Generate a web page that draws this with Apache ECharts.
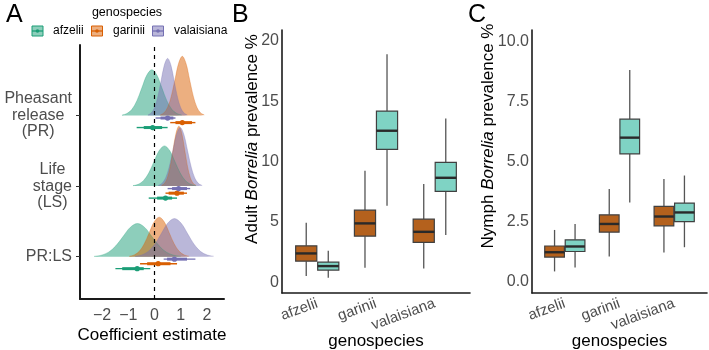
<!DOCTYPE html>
<html><head><meta charset="utf-8">
<script src="https://cdn.jsdelivr.net/npm/echarts@6/dist/echarts.min.js"></script>
<style>html,body{margin:0;padding:0;background:#fff}#c{width:709px;height:350px}</style>
</head><body><div id="c"></div>
<script>
// ---------- DATA ----------
const species = ['afzelii', 'garinii', 'valaisiana'];
const effectLabels = ['PR:LS', 'Life\nstage\n(LS)', 'Pheasant\nrelease\n(PR)']; // bottom -> top
const coefTicks = [-2, -1, 0, 1, 2];
const adultTicks = [0, 5, 10, 15, 20];
const nymphTicks = [0, 2.5, 5, 7.5, 10];

// posterior densities, [coefficient, density height] per effect row
const densPR_afzelii = [[-1.24,0.007],[-1.05,0.029],[-0.86,0.088],[-0.67,0.211],[-0.48,0.394],[-0.29,0.574],[-0.10,0.650],[0.09,0.574],[0.28,0.394],[0.47,0.211],[0.66,0.088],[0.85,0.029],[1.04,0.007]];
const densPR_garinii = [[0.22,0.009],[0.36,0.037],[0.50,0.114],[0.64,0.273],[0.78,0.509],[0.92,0.741],[1.06,0.840],[1.20,0.741],[1.34,0.509],[1.48,0.273],[1.62,0.114],[1.76,0.037],[1.90,0.009]];
const densPR_valaisiana = [[-0.25,0.009],[-0.125,0.036],[0,0.110],[0.125,0.263],[0.25,0.491],[0.375,0.715],[0.5,0.810],[0.625,0.715],[0.75,0.491],[0.875,0.263],[1.0,0.110],[1.125,0.036],[1.25,0.009]];
const densLS_afzelii = [[-0.82,0.006],[-0.62,0.025],[-0.42,0.077],[-0.22,0.185],[-0.02,0.346],[0.18,0.503],[0.38,0.570],[0.58,0.503],[0.78,0.346],[0.98,0.185],[1.18,0.077],[1.38,0.025],[1.58,0.006]];
const densLS_garinii = [[0.27,0.009],[0.38,0.037],[0.49,0.115],[0.60,0.276],[0.71,0.516],[0.82,0.750],[0.93,0.850],[1.04,0.750],[1.15,0.516],[1.26,0.276],[1.37,0.115],[1.48,0.037],[1.59,0.009]];
const densLS_valaisiana = [[0.14,0.009],[0.28,0.036],[0.42,0.112],[0.56,0.270],[0.70,0.503],[0.84,0.732],[0.98,0.830],[1.12,0.732],[1.26,0.503],[1.40,0.270],[1.54,0.112],[1.68,0.036],[1.82,0.009]];
const densPRLS_afzelii = [[-2.30,0.005],[-2.025,0.021],[-1.75,0.064],[-1.475,0.153],[-1.20,0.285],[-0.925,0.415],[-0.65,0.470],[-0.375,0.415],[-0.10,0.285],[0.175,0.153],[0.45,0.064],[0.725,0.021],[1.00,0.005]];
const densPRLS_garinii = [[-0.96,0.006],[-0.77,0.025],[-0.58,0.076],[-0.39,0.182],[-0.20,0.340],[-0.01,0.494],[0.18,0.560],[0.37,0.494],[0.56,0.340],[0.75,0.182],[0.94,0.076],[1.13,0.025],[1.32,0.006]];
const densPRLS_valaisiana = [[-0.74,0.006],[-0.49,0.024],[-0.24,0.073],[0.01,0.175],[0.26,0.328],[0.51,0.477],[0.76,0.540],[1.01,0.477],[1.26,0.328],[1.51,0.175],[1.76,0.073],[2.01,0.024],[2.26,0.006]];

// point intervals: [rowIndex (0=PR:LS,1=LS,2=PR), median, lo95, hi95, lo66, hi66]
const intAfzelii = [[2,-0.07,-0.68,0.50,-0.41,0.29],[1,0.42,-0.22,0.86,0.10,0.67],[0,-0.66,-1.49,-0.16,-1.23,-0.41]];
const intGarinii = [[2,1.06,0.60,1.56,0.80,1.43],[1,0.86,0.42,1.24,0.54,1.12],[0,0.14,-0.55,0.86,-0.28,0.61]];
const intValaisiana = [[2,0.50,0.04,0.80,0.23,0.72],[1,0.92,0.50,1.36,0.67,1.24],[0,0.76,0.35,1.56,0.48,1.24]];

// boxplots: [whiskerLow, Q1, median, Q3, whiskerHigh] per genospecies
const adultBrown = [[0.50,1.74,2.38,3.01,4.92],[1.19,3.81,4.87,5.97,9.23],[1.13,3.29,4.17,5.22,8.13]];
const adultTeal  = [[0.36,1.00,1.33,1.66,2.60],[6.33,11.00,12.55,14.18,18.88],[3.90,7.52,8.65,9.93,13.57]];
const nymphBrown = [[0.42,1.02,1.22,1.48,2.15],[1.04,2.06,2.40,2.78,3.86],[1.21,2.32,2.71,3.13,4.27]];
const nymphTeal  = [[0.58,1.25,1.46,1.74,2.40],[3.30,5.32,6.00,6.77,8.82],[1.43,2.50,2.88,3.27,4.42]];

// ---------- STYLE ----------
const FONT = '"Liberation Sans", Arial, Helvetica, sans-serif';
const spColor = {afzelii: '#1b9e77', garinii: '#d95f02', valaisiana: '#7570b3'};
const spFill = {afzelii: 'rgba(27,158,119,0.5)', garinii: 'rgba(217,95,2,0.5)', valaisiana: 'rgba(117,112,179,0.5)'};
const dodgeY = {afzelii: -0.17, garinii: -0.10, valaisiana: -0.035};
const BROWN = '#b4611d', TEAL = '#7fd3c4';
const BOX_OFF = 0.1875, BOX_W = 0.36;
const GRAY = '#4d4d4d';

const chart = echarts.init(document.getElementById('c'), null, {renderer: 'canvas'});

const series = [];
const densities = {
  0: {afzelii: densPRLS_afzelii, garinii: densPRLS_garinii, valaisiana: densPRLS_valaisiana},
  1: {afzelii: densLS_afzelii, garinii: densLS_garinii, valaisiana: densLS_valaisiana},
  2: {afzelii: densPR_afzelii, garinii: densPR_garinii, valaisiana: densPR_valaisiana}
};
[2, 1, 0].forEach(function (row) {
  const base = row + 1;
  species.forEach(function (sp) {
    series.push({
      type: 'line', xAxisIndex: 0, yAxisIndex: 0, smooth: 0.35, symbol: 'none', silent: true,
      data: densities[row][sp].map(function (p) { return [p[0], base + p[1]]; }),
      lineStyle: {width: 0.6, color: spFill[sp]},
      areaStyle: {color: spFill[sp], opacity: 1, origin: base},
      z: 2
    });
  });
});

function intervalRender(sp) {
  return function (params, api) {
    const y = api.value(0);
    const pm = api.coord([api.value(1), y]);
    const a = api.coord([api.value(2), y]), b = api.coord([api.value(3), y]);
    const c = api.coord([api.value(4), y]), d = api.coord([api.value(5), y]);
    const col = spColor[sp];
    return {type: 'group', children: [
      {type: 'line', shape: {x1: a[0], y1: a[1], x2: b[0], y2: b[1]}, style: {stroke: col, lineWidth: 1.4}},
      {type: 'line', shape: {x1: c[0], y1: c[1], x2: d[0], y2: d[1]}, style: {stroke: col, lineWidth: 3}},
      {type: 'circle', shape: {cx: pm[0], cy: pm[1], r: 2.6}, style: {fill: col}}
    ]};
  };
}
const intervals = {afzelii: intAfzelii, garinii: intGarinii, valaisiana: intValaisiana};
species.forEach(function (sp, i) {
  const s = {
    type: 'custom', xAxisIndex: 0, yAxisIndex: 0, silent: true, z: 5,
    renderItem: intervalRender(sp),
    encode: {x: [1, 2, 3, 4, 5], y: 0},
    data: intervals[sp].map(function (r) { return [r[0] + 1 + dodgeY[sp], r[1], r[2], r[3], r[4], r[5]]; })
  };
  if (i === 0) {
    s.markLine = {silent: true, symbol: 'none', label: {show: false},
      lineStyle: {color: '#000', type: [4, 4], width: 1.2}, data: [{xAxis: 0}]};
  }
  series.push(s);
});

function boxRender(offset, fill) {
  return function (params, api) {
    const x = api.value(0) + offset;
    const lo = api.coord([x, api.value(1)]), q1 = api.coord([x, api.value(2)]);
    const md = api.coord([x, api.value(3)]), q3 = api.coord([x, api.value(4)]);
    const hi = api.coord([x, api.value(5)]);
    const hw = api.size([BOX_W, 0])[0] / 2;
    return {type: 'group', children: [
      {type: 'line', shape: {x1: lo[0], y1: lo[1], x2: q1[0], y2: q1[1]}, style: {stroke: '#555', lineWidth: 1.3}},
      {type: 'line', shape: {x1: q3[0], y1: q3[1], x2: hi[0], y2: hi[1]}, style: {stroke: '#555', lineWidth: 1.3}},
      {type: 'rect', shape: {x: q3[0] - hw, y: q3[1], width: 2 * hw, height: q1[1] - q3[1]},
        style: {fill: fill, stroke: '#404040', lineWidth: 1.2}},
      {type: 'line', shape: {x1: md[0] - hw, y1: md[1], x2: md[0] + hw, y2: md[1]}, style: {stroke: '#2a2a2a', lineWidth: 2.4}}
    ]};
  };
}
function boxSeries(arr, idx, offset, fill) {
  return {
    type: 'custom', xAxisIndex: idx, yAxisIndex: idx, silent: true,
    renderItem: boxRender(offset, fill),
    encode: {x: 0, y: [1, 2, 3, 4, 5]},
    data: arr.map(function (v, i) { return [i + 1].concat(v); })
  };
}
series.push(boxSeries(adultBrown, 1, -BOX_OFF, BROWN));
series.push(boxSeries(adultTeal, 1, BOX_OFF, TEAL));
series.push(boxSeries(nymphBrown, 2, -BOX_OFF, BROWN));
series.push(boxSeries(nymphTeal, 2, BOX_OFF, TEAL));

const axisLineBold = {show: true, onZero: false, lineStyle: {color: '#1a1a1a', width: 2}};
const axisLineMid = {show: true, onZero: false, lineStyle: {color: '#1a1a1a', width: 1.6}};

function catX(idx, gridIdx) {
  return {
    type: 'value', gridIndex: gridIdx, min: 0.4, max: 3.6,
    axisLine: axisLineMid, axisTick: {show: false}, splitLine: {show: false},
    axisLabel: {customValues: [1, 2, 3], formatter: function (v) { return species[Math.round(v) - 1]; },
      rotate: 20, color: GRAY, fontSize: 15, fontFamily: FONT, margin: 10},
    name: 'genospecies', nameLocation: 'middle', nameGap: 40, nameMoveOverlap: false,
    nameTextStyle: {fontSize: 17, color: '#000', fontFamily: FONT}
  };
}

const option = {
  animation: false,
  backgroundColor: '#fff',
  textStyle: {fontFamily: FONT},
  grid: [
    {left: 80, top: 45, width: 144, height: 254, containLabel: false, outerBoundsMode: 'none'},
    {left: 282, top: 30, width: 188, height: 263, containLabel: false, outerBoundsMode: 'none'},
    {left: 532, top: 30, width: 175, height: 263, containLabel: false, outerBoundsMode: 'none'}
  ],
  xAxis: [
    {type: 'value', gridIndex: 0, min: -2.84, max: 2.65,
      axisLine: axisLineBold, axisTick: {show: false}, splitLine: {show: false},
      axisLabel: {customValues: coefTicks, formatter: function (v) { return v < 0 ? '\u2212' + Math.abs(v) : String(v); },
        color: GRAY, fontSize: 16, fontFamily: FONT, margin: 9},
      name: 'Coefficient estimate', nameLocation: 'middle', nameGap: 28, nameMoveOverlap: false,
      nameTextStyle: {fontSize: 17, color: '#000', fontFamily: FONT}},
    catX(0, 1),
    catX(1, 2)
  ],
  yAxis: [
    {type: 'value', gridIndex: 0, min: 0.4, max: 4.0,
      axisLine: axisLineBold, splitLine: {show: false},
      axisTick: {show: true, customValues: [1, 2, 3], length: 4, lineStyle: {color: '#333', width: 1}},
      axisLabel: {customValues: [1, 2, 3], margin: 8,
        formatter: function (v) {
          return effectLabels[Math.round(v) - 1].split('\n').map(function (s) { return '{c|' + s + '}'; }).join('\n');
        },
        rich: {c: {align: 'center', fontSize: 16, lineHeight: 16.5, color: GRAY, fontFamily: FONT}}}},
    {type: 'value', gridIndex: 1, min: -0.9, max: 20.9,
      axisLine: axisLineMid, axisTick: {show: false}, splitLine: {show: false},
      axisLabel: {customValues: adultTicks, color: GRAY, fontSize: 16, fontFamily: FONT, margin: 3}},
    {type: 'value', gridIndex: 2, min: -0.48, max: 10.49,
      axisLine: axisLineMid, axisTick: {show: false}, splitLine: {show: false},
      axisLabel: {customValues: nymphTicks, formatter: function (v) { return v.toFixed(1); },
        color: GRAY, fontSize: 16, fontFamily: FONT, margin: 3}}
  ],
  graphic: [],
  series: series
};

// panel letters
[['A', 6], ['B', 232], ['C', 468]].forEach(function (p) {
  option.graphic.push({type: 'text', left: p[1], top: 3,
    style: {text: p[0], fontSize: 25, fontFamily: FONT, fill: '#000'}});
});
// legend
option.graphic.push({type: 'text', x: 127, y: 13,
  style: {text: 'genospecies', fontSize: 12.5, fontFamily: FONT, fill: '#000', align: 'center', verticalAlign: 'middle', textAlign: 'center', textVerticalAlign: 'middle'}});
const legendPos = {afzelii: [37.5, 53], garinii: [97, 113], valaisiana: [158, 174]};
species.forEach(function (sp) {
  const cx = legendPos[sp][0], cy = 31;
  option.graphic.push({type: 'rect', shape: {x: cx - 5.5, y: cy - 5, width: 11, height: 10},
    style: {fill: spFill[sp], stroke: spColor[sp], lineWidth: 1}});
  option.graphic.push({type: 'line', shape: {x1: cx - 5.5, y1: cy, x2: cx + 5.5, y2: cy},
    style: {stroke: spColor[sp], lineWidth: 1.3}});
  option.graphic.push({type: 'circle', shape: {cx: cx, cy: cy, r: 1.8}, style: {fill: spColor[sp]}});
  option.graphic.push({type: 'text', x: legendPos[sp][1], y: cy,
    style: {text: sp, fontSize: 12, fontFamily: FONT, fill: '#000', verticalAlign: 'middle', textVerticalAlign: 'middle'}});
});
// rotated y titles with italic genus name
function yTitle(prefix, cx, cy) {
  return {type: 'text', x: cx, y: cy, rotation: Math.PI / 2,
    style: {text: '{n|' + prefix + ' }{i|Borrelia}{n| prevalence %}',
      align: 'center', verticalAlign: 'middle', textAlign: 'center', textVerticalAlign: 'middle',
      rich: {n: {fontSize: 17, fontFamily: FONT, fill: '#000', color: '#000'},
             i: {fontSize: 17, fontFamily: FONT, fontStyle: 'italic', fill: '#000', color: '#000'}}}};
}
option.graphic.push(yTitle('Adult', 252, 139));
option.graphic.push(yTitle('Nymph', 488, 136));

chart.setOption(option);
</script>
</body></html>
